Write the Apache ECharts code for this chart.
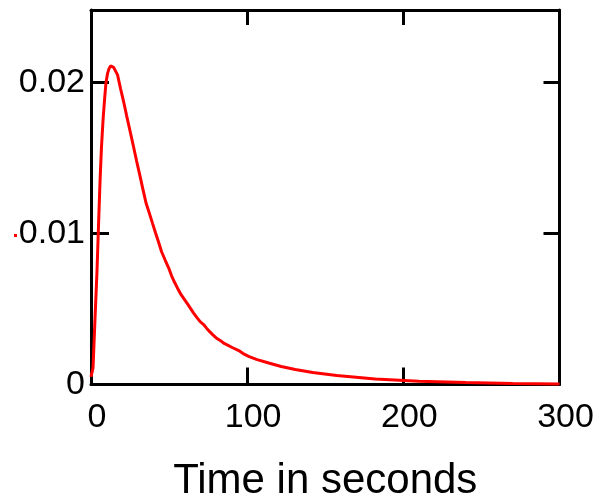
<!DOCTYPE html>
<html>
<head>
<meta charset="utf-8">
<script src="https://cdn.jsdelivr.net/npm/echarts@6/dist/echarts.min.js"></script>
<style>html,body{margin:0;padding:0;background:#fff}#c{width:594px;height:496px}</style>
</head>
<body>
<div id="c"></div>
<script>
var seriesName = 'response';
var timeSeconds = [0, 1.3, 2.5, 3.8, 4.8, 5.8, 6.7, 7.7, 8.7, 9.6, 10.6, 11.5, 12.5, 13.5, 14.5, 15.4, 17.0, 18.9, 20.8, 22.8, 25.0, 27.2, 29.2, 31.4, 33.3, 35.3, 37.5, 39.4, 41.3, 43.3, 45.2, 47.4, 49.7, 51.6, 53.5, 55.4, 57.7, 59.9, 61.9, 63.8, 65.7, 67.6, 69.9, 72.1, 74.0, 76.0, 77.9, 80.0, 82.7, 85.3, 90.4, 94.6, 97.4, 101.3, 106.4, 113.8, 121.8, 130.8, 142, 157.4, 182, 210, 240, 270, 300];
var values = [0.0005, 0.0011, 0.0042, 0.0074, 0.0105, 0.0135, 0.0157, 0.0175, 0.0189, 0.0200, 0.0206, 0.0209, 0.0211, 0.0211, 0.0210, 0.0209, 0.0205, 0.0196, 0.01877, 0.01781, 0.01679, 0.01576, 0.0148, 0.0138, 0.0129, 0.0120, 0.0113, 0.01067, 0.01005, 0.00942, 0.00879, 0.00826, 0.00773, 0.0072, 0.00677, 0.00638, 0.00595, 0.00562, 0.00532, 0.00502, 0.00473, 0.00446, 0.00416, 0.00397, 0.00373, 0.0035, 0.0033, 0.0031, 0.00292, 0.00272, 0.00245, 0.00225, 0.00205, 0.00185, 0.00165, 0.00142, 0.00119, 0.00099, 0.00079, 0.00059, 0.00036, 0.00022, 0.00013, 0.00007, 0.00003];
var xTicks = [0, 100, 200, 300];
var yTicks = [0, 0.01, 0.02];
var xName = 'Time in seconds';

var data = timeSeconds.map(function (t, i) { return [t, values[i]]; });
var labelFont = '"Liberation Sans", Arial, sans-serif';
var X_MIN = 0, X_MAX = 300, X_INT = 100;
var Y_MIN = 0, Y_MAX = 0.0248, Y_INT = 0.01;
var lineStyle = { color: '#000', width: 3 };
var tickStyle = { color: '#000', width: 3 };

var chart = echarts.init(document.getElementById('c'), null, { renderer: 'canvas' });
chart.setOption({
  animation: false,
  backgroundColor: '#fff',
  grid: { left: 91, right: 34.5, top: 10, bottom: 111.5, containLabel: false, outerBoundsMode: 'none' },
  legend: {
    data: [seriesName], left: 14, top: 234, itemWidth: 3, itemHeight: 3, itemGap: 0,
    icon: 'rect', formatter: function () { return ''; }, padding: 0,
    textStyle: { fontSize: 1 }, selectedMode: false
  },
  xAxis: [{
    type: 'value', position: 'bottom', min: X_MIN, max: X_MAX, interval: X_INT,
    name: xName, nameLocation: 'middle', nameGap: 75.5,
    nameTextStyle: { fontFamily: '"Liberation Sans", Arial, sans-serif', fontSize: 42, color: '#000' },
    axisLine: { show: true, onZero: false, lineStyle: lineStyle },
    axisTick: { show: true, inside: true, length: 17, lineStyle: tickStyle },
    axisLabel: {
      show: true, margin: 16, fontFamily: labelFont, fontSize: 34, color: '#000',
      padding: [0, 0, 0, 12],
      formatter: function (v) { return xTicks.indexOf(v) >= 0 ? String(v) : ''; }
    },
    splitLine: { show: false }
  }, {
    type: 'value', position: 'top', min: X_MIN, max: X_MAX, interval: X_INT,
    axisLine: { show: true, onZero: false, lineStyle: lineStyle },
    axisTick: { show: true, inside: true, length: 15, lineStyle: tickStyle },
    axisLabel: { show: false }, splitLine: { show: false }
  }],
  yAxis: [{
    type: 'value', position: 'left', min: Y_MIN, max: Y_MAX, interval: Y_INT,
    axisLine: { show: true, onZero: false, lineStyle: lineStyle },
    axisTick: { show: true, inside: true, length: 18, lineStyle: tickStyle },
    axisLabel: {
      show: true, margin: 6, fontFamily: labelFont, fontSize: 34, color: '#000',
      showMaxLabel: false, padding: [8, 0, 0, 0],
      formatter: function (v) {
        for (var i = 0; i < yTicks.length; i++) {
          if (Math.abs(v - yTicks[i]) < 1e-9) return String(yTicks[i]);
        }
        return '';
      }
    },
    splitLine: { show: false }
  }, {
    type: 'value', position: 'right', min: Y_MIN, max: Y_MAX, interval: Y_INT,
    axisLine: { show: true, onZero: false, lineStyle: lineStyle },
    axisTick: { show: true, inside: true, length: 16, lineStyle: tickStyle },
    axisLabel: { show: false }, splitLine: { show: false }
  }],
  series: [{
    name: seriesName, type: 'line', xAxisIndex: 0, yAxisIndex: 0,
    data: data, showSymbol: false, symbol: 'none', smooth: false,
    itemStyle: { color: '#ff0000' },
    lineStyle: { color: '#ff0000', width: 3 },
    z: 1
  }]
});
</script>
</body>
</html>
